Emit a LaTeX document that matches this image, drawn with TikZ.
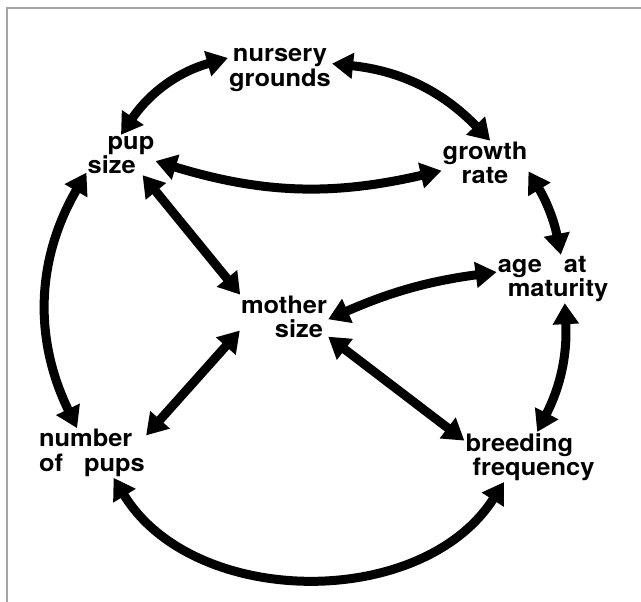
\documentclass[tikz,border=0pt]{standalone}
\usepackage{fontspec}
\setmainfont{TeX Gyre Heros}[FakeStretch=1.06]
\usetikzlibrary{arrows.meta}

\begin{document}
\begin{tikzpicture}[x=1pt,y=-1pt,
        lbl/.style={font=\fontsize{24}{24.5}\selectfont\bfseries, inner sep=1pt, align=center},
        link/.style={line width=9pt, {Triangle[length=21pt,width=25pt]}-{Triangle[length=21pt,width=25pt]}}]

                \useasboundingbox (0,0) rectangle (641,602);
                \draw [gray!70, line width=1.2pt] (641,8)--(7,8)--(7,602);

                \node[lbl] (nursery) at (280,70) {nursery\\grounds};
                \node[lbl, align=left] (pup) at (121,155) {\hspace*{20pt}pup\\size};
                \node[lbl] (growth) at (485,163) {growth\\rate};
                \node[lbl, align=right] (mother) at (284,317) {mother\\size\hspace*{4pt}};
                \node[lbl, align=left] (age) at (553,279) {age\hspace{22pt}at\\\hspace*{10pt}maturity};
                \node[lbl, align=left] (number) at (92,453) {number\\of\hspace{21pt}pups};
                \node[lbl, align=left] (breeding) at (530,457) {breeding\\\hspace*{7pt}frequency};

                \draw [link] (nursery.167) to[bend right=20] (pup.90);
                \draw [link] (nursery.7) to[bend left=20] (growth.77);
                \draw [link] (pup.350) to[bend right=15] (growth.190);
                \draw [link] (pup.317)--(mother.153);
                \draw [link] (mother.357) to[bend left=8] (age.173);
                \draw [link] (growth.349) to[bend left=10] (age.72);
                \draw [link] (age.296) to[bend left=15] (breeding.74);
                \draw [link] (mother.336)--(breeding.166);
                \draw [link] (mother.197)--(number.18);
                \draw [link] (pup.207) to[bend right=28] (number.121);
                \draw [link] (number.311) to[bend right=58] (breeding.224);
            \end{tikzpicture}
\end{document}
